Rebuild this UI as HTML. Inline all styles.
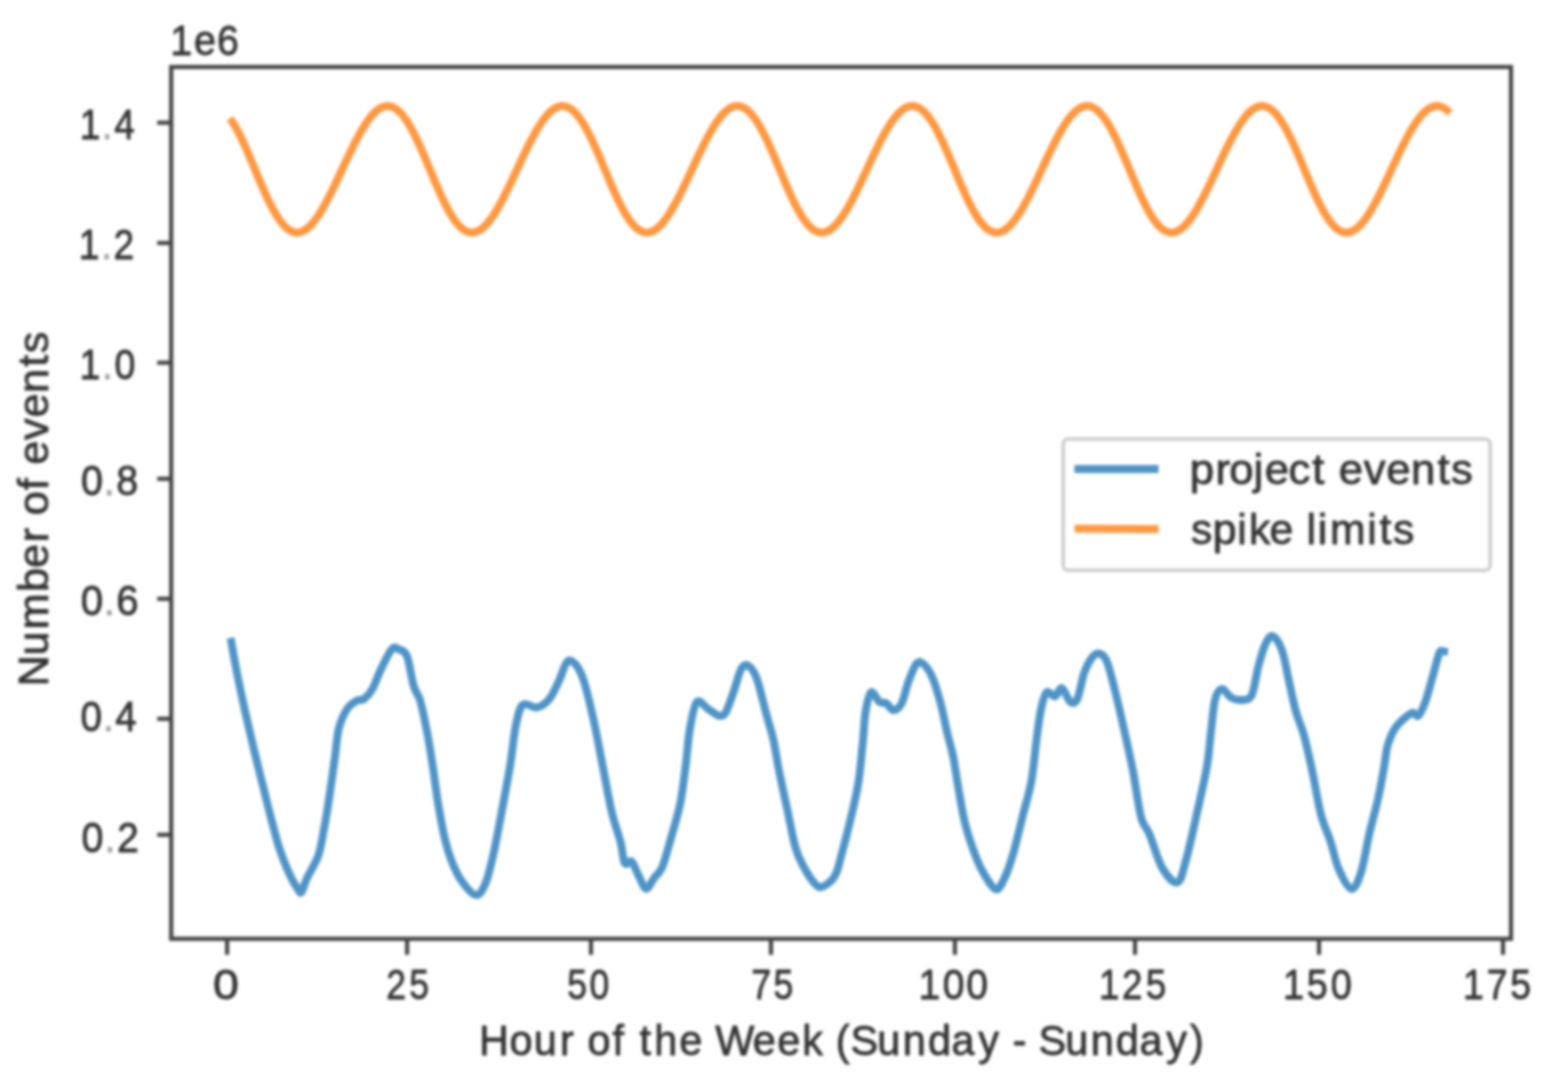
<!DOCTYPE html>
<html><head><meta charset="utf-8"><style>
html,body{margin:0;padding:0;background:#fff;width:1564px;height:1080px;overflow:hidden}
svg{display:block;filter:blur(1.8px)}
.t{stroke:#333333;stroke-width:0.8px;font-family:"Liberation Sans",sans-serif;font-size:43.0px;fill:#333333}
</style></head><body>
<svg width="1564" height="1080" viewBox="0 0 1564 1080">
<rect x="171.2" y="67.0" width="1339.8" height="871.8" fill="none" stroke="#454545" stroke-width="4.2"/>
<line x1="157.2" y1="122.7" x2="171.2" y2="122.7" stroke="#454545" stroke-width="4.2"/>
<line x1="157.2" y1="243.0" x2="171.2" y2="243.0" stroke="#454545" stroke-width="4.2"/>
<line x1="157.2" y1="362.7" x2="171.2" y2="362.7" stroke="#454545" stroke-width="4.2"/>
<line x1="157.2" y1="478.8" x2="171.2" y2="478.8" stroke="#454545" stroke-width="4.2"/>
<line x1="157.2" y1="598.8" x2="171.2" y2="598.8" stroke="#454545" stroke-width="4.2"/>
<line x1="157.2" y1="718.8" x2="171.2" y2="718.8" stroke="#454545" stroke-width="4.2"/>
<line x1="157.2" y1="834.8" x2="171.2" y2="834.8" stroke="#454545" stroke-width="4.2"/>
<line x1="227.1" y1="938.8" x2="227.1" y2="954.8" stroke="#454545" stroke-width="4.2"/>
<line x1="407.1" y1="938.8" x2="407.1" y2="954.8" stroke="#454545" stroke-width="4.2"/>
<line x1="591.0" y1="938.8" x2="591.0" y2="954.8" stroke="#454545" stroke-width="4.2"/>
<line x1="771.0" y1="938.8" x2="771.0" y2="954.8" stroke="#454545" stroke-width="4.2"/>
<line x1="954.9" y1="938.8" x2="954.9" y2="954.8" stroke="#454545" stroke-width="4.2"/>
<line x1="1135.0" y1="938.8" x2="1135.0" y2="954.8" stroke="#454545" stroke-width="4.2"/>
<line x1="1319.0" y1="938.8" x2="1319.0" y2="954.8" stroke="#454545" stroke-width="4.2"/>
<line x1="1503.0" y1="938.8" x2="1503.0" y2="954.8" stroke="#454545" stroke-width="4.2"/>
<path d="M230.0,118.4 L232.0,121.3 L234.0,124.5 L236.0,127.9 L238.0,131.6 L240.0,135.5 L242.0,139.7 L244.0,144.0 L246.0,148.4 L248.0,153.0 L250.0,157.6 L252.0,162.4 L254.0,167.1 L256.0,171.9 L258.0,176.7 L260.0,181.4 L262.0,186.1 L264.0,190.7 L266.0,195.1 L268.0,199.4 L270.0,203.5 L272.0,207.4 L274.0,211.1 L276.0,214.5 L278.0,217.7 L280.0,220.6 L282.0,223.2 L284.0,225.5 L286.0,227.5 L288.0,229.2 L290.0,230.5 L292.0,231.5 L294.0,232.2 L296.0,232.6 L298.0,232.6 L300.0,232.2 L302.0,231.6 L304.0,230.6 L306.0,229.4 L308.0,227.8 L310.0,226.0 L312.0,223.8 L314.0,221.5 L316.0,218.8 L318.0,216.0 L320.0,212.9 L322.0,209.6 L324.0,206.1 L326.0,202.5 L328.0,198.7 L330.0,194.8 L332.0,190.8 L334.0,186.7 L336.0,182.5 L338.0,178.3 L340.0,174.0 L342.0,169.7 L344.0,165.4 L346.0,161.1 L348.0,156.9 L350.0,152.7 L352.0,148.6 L354.0,144.5 L356.0,140.6 L358.0,136.8 L360.0,133.2 L362.0,129.7 L364.0,126.4 L366.0,123.3 L368.0,120.4 L370.0,117.7 L372.0,115.3 L374.0,113.1 L376.0,111.2 L378.0,109.6 L380.0,108.3 L382.0,107.2 L384.0,106.5 L386.0,106.1 L388.0,106.0 L390.0,106.3 L392.0,106.8 L394.0,107.7 L396.0,109.0 L398.0,110.5 L400.0,112.4 L402.0,114.6 L404.0,117.1 L406.0,119.9 L408.0,123.0 L410.0,126.3 L412.0,129.9 L414.0,133.8 L416.0,137.8 L418.0,142.0 L420.0,146.4 L422.0,150.9 L424.0,155.5 L426.0,160.2 L428.0,165.0 L430.0,169.8 L432.0,174.6 L434.0,179.3 L436.0,184.0 L438.0,188.6 L440.0,193.1 L442.0,197.5 L444.0,201.7 L446.0,205.7 L448.0,209.5 L450.0,213.0 L452.0,216.3 L454.0,219.3 L456.0,222.1 L458.0,224.5 L460.0,226.7 L462.0,228.5 L464.0,230.0 L466.0,231.1 L468.0,232.0 L470.0,232.4 L472.0,232.6 L474.0,232.4 L476.0,231.9 L478.0,231.1 L480.0,230.0 L482.0,228.6 L484.0,226.8 L486.0,224.8 L488.0,222.6 L490.0,220.0 L492.0,217.3 L494.0,214.3 L496.0,211.1 L498.0,207.7 L500.0,204.2 L502.0,200.5 L504.0,196.6 L506.0,192.6 L508.0,188.6 L510.0,184.4 L512.0,180.2 L514.0,175.9 L516.0,171.6 L518.0,167.3 L520.0,163.0 L522.0,158.8 L524.0,154.6 L526.0,150.4 L528.0,146.3 L530.0,142.4 L532.0,138.5 L534.0,134.8 L536.0,131.2 L538.0,127.9 L540.0,124.7 L542.0,121.7 L544.0,118.9 L546.0,116.4 L548.0,114.1 L550.0,112.0 L552.0,110.3 L554.0,108.8 L556.0,107.6 L558.0,106.8 L560.0,106.2 L562.0,106.0 L564.0,106.1 L566.0,106.5 L568.0,107.3 L570.0,108.4 L572.0,109.8 L574.0,111.5 L576.0,113.6 L578.0,116.0 L580.0,118.6 L582.0,121.6 L584.0,124.8 L586.0,128.3 L588.0,132.0 L590.0,136.0 L592.0,140.1 L594.0,144.4 L596.0,148.9 L598.0,153.4 L600.0,158.1 L602.0,162.8 L604.0,167.6 L606.0,172.4 L608.0,177.2 L610.0,181.9 L612.0,186.6 L614.0,191.1 L616.0,195.5 L618.0,199.8 L620.0,203.9 L622.0,207.8 L624.0,211.4 L626.0,214.9 L628.0,218.0 L630.0,220.9 L632.0,223.5 L634.0,225.7 L636.0,227.7 L638.0,229.3 L640.0,230.6 L642.0,231.6 L644.0,232.3 L646.0,232.6 L648.0,232.5 L650.0,232.2 L652.0,231.5 L654.0,230.5 L656.0,229.2 L658.0,227.6 L660.0,225.8 L662.0,223.6 L664.0,221.2 L666.0,218.5 L668.0,215.7 L670.0,212.6 L672.0,209.3 L674.0,205.8 L676.0,202.1 L678.0,198.4 L680.0,194.4 L682.0,190.4 L684.0,186.3 L686.0,182.1 L688.0,177.9 L690.0,173.6 L692.0,169.3 L694.0,165.0 L696.0,160.7 L698.0,156.5 L700.0,152.3 L702.0,148.2 L704.0,144.1 L706.0,140.2 L708.0,136.5 L710.0,132.8 L712.0,129.4 L714.0,126.1 L716.0,123.0 L718.0,120.1 L720.0,117.5 L722.0,115.1 L724.0,112.9 L726.0,111.0 L728.0,109.4 L730.0,108.1 L732.0,107.1 L734.0,106.4 L736.0,106.1 L738.0,106.0 L740.0,106.3 L742.0,106.9 L744.0,107.8 L746.0,109.1 L748.0,110.7 L750.0,112.6 L752.0,114.9 L754.0,117.4 L756.0,120.2 L758.0,123.3 L760.0,126.7 L762.0,130.3 L764.0,134.2 L766.0,138.2 L768.0,142.4 L770.0,146.8 L772.0,151.4 L774.0,156.0 L776.0,160.7 L778.0,165.5 L780.0,170.3 L782.0,175.0 L784.0,179.8 L786.0,184.5 L788.0,189.1 L790.0,193.6 L792.0,197.9 L794.0,202.1 L796.0,206.1 L798.0,209.8 L800.0,213.4 L802.0,216.6 L804.0,219.6 L806.0,222.3 L808.0,224.8 L810.0,226.9 L812.0,228.6 L814.0,230.1 L816.0,231.2 L818.0,232.0 L820.0,232.5 L822.0,232.6 L824.0,232.4 L826.0,231.9 L828.0,231.0 L830.0,229.9 L832.0,228.4 L834.0,226.6 L836.0,224.6 L838.0,222.3 L840.0,219.8 L842.0,217.0 L844.0,214.0 L846.0,210.8 L848.0,207.4 L850.0,203.8 L852.0,200.1 L854.0,196.2 L856.0,192.2 L858.0,188.2 L860.0,184.0 L862.0,179.8 L864.0,175.5 L866.0,171.2 L868.0,166.9 L870.0,162.6 L872.0,158.4 L874.0,154.1 L876.0,150.0 L878.0,145.9 L880.0,142.0 L882.0,138.1 L884.0,134.4 L886.0,130.9 L888.0,127.5 L890.0,124.4 L892.0,121.4 L894.0,118.6 L896.0,116.1 L898.0,113.8 L900.0,111.8 L902.0,110.1 L904.0,108.7 L906.0,107.5 L908.0,106.7 L910.0,106.2 L912.0,106.0 L914.0,106.1 L916.0,106.6 L918.0,107.4 L920.0,108.5 L922.0,110.0 L924.0,111.7 L926.0,113.8 L928.0,116.2 L930.0,118.9 L932.0,121.9 L934.0,125.1 L936.0,128.7 L938.0,132.4 L940.0,136.4 L942.0,140.5 L944.0,144.8 L946.0,149.3 L948.0,153.9 L950.0,158.6 L952.0,163.3 L954.0,168.1 L956.0,172.9 L958.0,177.7 L960.0,182.4 L962.0,187.0 L964.0,191.6 L966.0,196.0 L968.0,200.2 L970.0,204.3 L972.0,208.2 L974.0,211.8 L976.0,215.2 L978.0,218.3 L980.0,221.2 L982.0,223.7 L984.0,225.9 L986.0,227.9 L988.0,229.5 L990.0,230.8 L992.0,231.7 L994.0,232.3 L996.0,232.6 L998.0,232.5 L1000.0,232.1 L1002.0,231.4 L1004.0,230.4 L1006.0,229.1 L1008.0,227.5 L1010.0,225.6 L1012.0,223.4 L1014.0,220.9 L1016.0,218.3 L1018.0,215.4 L1020.0,212.2 L1022.0,208.9 L1024.0,205.4 L1026.0,201.8 L1028.0,198.0 L1030.0,194.0 L1032.0,190.0 L1034.0,185.9 L1036.0,181.7 L1038.0,177.4 L1040.0,173.1 L1042.0,168.8 L1044.0,164.5 L1046.0,160.3 L1048.0,156.0 L1050.0,151.9 L1052.0,147.8 L1054.0,143.7 L1056.0,139.9 L1058.0,136.1 L1060.0,132.5 L1062.0,129.0 L1064.0,125.8 L1066.0,122.7 L1068.0,119.8 L1070.0,117.2 L1072.0,114.8 L1074.0,112.7 L1076.0,110.9 L1078.0,109.3 L1080.0,108.0 L1082.0,107.0 L1084.0,106.4 L1086.0,106.0 L1088.0,106.0 L1090.0,106.3 L1092.0,107.0 L1094.0,108.0 L1096.0,109.3 L1098.0,110.9 L1100.0,112.8 L1102.0,115.1 L1104.0,117.7 L1106.0,120.5 L1108.0,123.7 L1110.0,127.0 L1112.0,130.7 L1114.0,134.6 L1116.0,138.6 L1118.0,142.9 L1120.0,147.3 L1122.0,151.8 L1124.0,156.5 L1126.0,161.2 L1128.0,165.9 L1130.0,170.7 L1132.0,175.5 L1134.0,180.3 L1136.0,185.0 L1138.0,189.5 L1140.0,194.0 L1142.0,198.3 L1144.0,202.5 L1146.0,206.4 L1148.0,210.2 L1150.0,213.7 L1152.0,216.9 L1154.0,219.9 L1156.0,222.6 L1158.0,225.0 L1160.0,227.0 L1162.0,228.8 L1164.0,230.2 L1166.0,231.3 L1168.0,232.1 L1170.0,232.5 L1172.0,232.6 L1174.0,232.4 L1176.0,231.8 L1178.0,230.9 L1180.0,229.7 L1182.0,228.2 L1184.0,226.5 L1186.0,224.4 L1188.0,222.1 L1190.0,219.5 L1192.0,216.7 L1194.0,213.7 L1196.0,210.4 L1198.0,207.0 L1200.0,203.4 L1202.0,199.7 L1204.0,195.8 L1206.0,191.8 L1208.0,187.7 L1210.0,183.6 L1212.0,179.3 L1214.0,175.1 L1216.0,170.8 L1218.0,166.5 L1220.0,162.2 L1222.0,157.9 L1224.0,153.7 L1226.0,149.6 L1228.0,145.5 L1230.0,141.6 L1232.0,137.8 L1234.0,134.1 L1236.0,130.6 L1238.0,127.2 L1240.0,124.0 L1242.0,121.1 L1244.0,118.4 L1246.0,115.9 L1248.0,113.6 L1250.0,111.7 L1252.0,110.0 L1254.0,108.6 L1256.0,107.4 L1258.0,106.6 L1260.0,106.2 L1262.0,106.0 L1264.0,106.2 L1266.0,106.7 L1268.0,107.5 L1270.0,108.6 L1272.0,110.1 L1274.0,111.9 L1276.0,114.0 L1278.0,116.5 L1280.0,119.2 L1282.0,122.2 L1284.0,125.5 L1286.0,129.0 L1288.0,132.8 L1290.0,136.8 L1292.0,140.9 L1294.0,145.3 L1296.0,149.8 L1298.0,154.4 L1300.0,159.0 L1302.0,163.8 L1304.0,168.6 L1306.0,173.4 L1308.0,178.1 L1310.0,182.9 L1312.0,187.5 L1314.0,192.0 L1316.0,196.4 L1318.0,200.6 L1320.0,204.7 L1322.0,208.5 L1324.0,212.1 L1326.0,215.5 L1328.0,218.6 L1330.0,221.4 L1332.0,223.9 L1334.0,226.2 L1336.0,228.1 L1338.0,229.6 L1340.0,230.9 L1342.0,231.8 L1344.0,232.4 L1346.0,232.6 L1348.0,232.5 L1350.0,232.1 L1352.0,231.3 L1354.0,230.3 L1356.0,228.9 L1358.0,227.3 L1360.0,225.4 L1362.0,223.2 L1364.0,220.7 L1366.0,218.0 L1368.0,215.1 L1370.0,211.9 L1372.0,208.6 L1374.0,205.1 L1376.0,201.4 L1378.0,197.6 L1380.0,193.6 L1382.0,189.6 L1384.0,185.5 L1386.0,181.3 L1388.0,177.0 L1390.0,172.7 L1392.0,168.4 L1394.0,164.1 L1396.0,159.8 L1398.0,155.6 L1400.0,151.4 L1402.0,147.3 L1404.0,143.3 L1406.0,139.5 L1408.0,135.7 L1410.0,132.1 L1412.0,128.7 L1414.0,125.4 L1416.0,122.4 L1418.0,119.6 L1420.0,117.0 L1422.0,114.6 L1424.0,112.5 L1426.0,110.7 L1428.0,109.2 L1430.0,107.9 L1432.0,107.0 L1434.0,106.3 L1436.0,106.0 L1438.0,106.0 L1440.0,106.4 L1442.0,107.1 L1444.0,108.1 L1446.0,109.4 L1448.0,111.1 L1450.0,113.1 L1450.0,113.1" fill="none" stroke="#ff9840" stroke-width="7.8" stroke-linejoin="round"/>
<path d="M230.6,638.1 C231.8,644.4 235.0,662.9 237.5,675.6 C240.0,688.3 243.0,701.9 245.8,714.4 C248.6,726.9 251.4,739.0 254.2,750.6 C257.0,762.2 259.7,772.8 262.5,783.9 C265.3,795.0 268.0,806.6 270.8,817.2 C273.6,827.9 276.2,838.5 279.2,847.8 C282.2,857.1 285.9,866.1 288.9,872.8 C291.9,879.5 295.1,884.9 297.2,888.1 C299.3,891.3 299.8,893.8 301.4,892.2 C303.0,890.6 304.1,884.3 306.9,878.3 C309.7,872.3 315.3,864.0 318.1,856.1 C320.9,848.2 321.8,840.8 323.6,831.1 C325.5,821.4 327.4,809.8 329.2,797.8 C331.0,785.8 333.1,770.5 334.7,758.9 C336.3,747.3 336.8,736.6 338.9,728.3 C341.0,720.0 344.2,713.5 347.2,708.9 C350.2,704.3 354.2,702.2 357.0,700.6 C359.8,699.0 361.4,701.1 363.9,699.2 C366.4,697.3 369.4,694.3 372.2,689.4 C375.0,684.5 377.4,676.7 380.6,670.0 C383.9,663.3 388.7,652.7 391.7,649.2 C394.7,645.7 396.1,648.1 398.6,649.2 C401.1,650.4 404.3,649.9 406.9,656.1 C409.4,662.4 411.7,679.4 413.9,686.7 C416.1,694.0 417.8,692.6 420.0,700.0 C422.2,707.4 424.8,720.4 426.9,731.1 C429.0,741.8 430.6,752.4 432.5,764.4 C434.4,776.4 436.0,790.8 438.1,803.3 C440.2,815.8 442.7,829.7 445.0,839.4 C447.3,849.1 449.1,854.8 451.9,861.7 C454.7,868.7 457.8,875.6 461.7,881.1 C465.6,886.6 471.7,894.5 475.6,895.0 C479.5,895.5 482.3,890.9 485.3,883.9 C488.3,876.9 490.6,866.7 493.6,853.3 C496.6,839.9 500.5,818.1 503.3,803.3 C506.1,788.5 508.2,777.3 510.3,764.4 C512.4,751.5 513.7,735.5 515.8,725.6 C517.9,715.7 519.3,707.7 522.8,704.7 C526.3,701.7 532.3,708.4 536.7,707.5 C541.1,706.6 545.5,703.6 549.2,699.2 C552.9,694.8 555.9,687.4 558.9,681.1 C561.9,674.9 564.4,664.5 567.2,661.7 C570.0,658.9 572.8,661.2 575.6,664.4 C578.4,667.6 580.9,671.8 583.9,681.1 C586.9,690.4 590.6,706.6 593.6,720.0 C596.6,733.4 598.9,746.4 601.9,761.7 C604.9,777.0 608.6,798.3 611.7,811.7 C614.8,825.1 618.4,833.6 620.6,842.2 C622.8,850.8 622.9,859.9 624.7,863.1 C626.6,866.4 629.4,859.6 631.7,861.7 C634.0,863.8 636.2,871.1 638.6,875.6 C641.0,880.1 643.6,888.5 646.1,888.9 C648.6,889.3 651.2,881.9 653.9,878.3 C656.6,874.7 659.4,873.7 662.2,867.2 C665.0,860.7 667.6,850.0 670.6,839.4 C673.6,828.8 677.8,815.8 680.3,803.3 C682.8,790.8 684.2,776.9 685.8,764.4 C687.4,751.9 688.1,738.7 690.0,728.3 C691.9,717.9 693.9,705.1 696.9,701.9 C699.9,698.7 704.4,706.6 708.1,708.9 C711.8,711.2 716.2,715.3 719.2,715.8 C722.2,716.3 723.6,716.1 726.1,711.7 C728.6,707.3 731.9,696.6 734.4,689.4 C736.9,682.2 739.1,672.5 741.4,668.6 C743.7,664.7 745.8,664.2 748.3,665.8 C750.8,667.4 753.7,670.2 756.7,678.3 C759.7,686.4 763.6,704.2 766.4,714.4 C769.2,724.6 771.2,730.1 773.3,739.4 C775.4,748.7 776.6,758.4 778.9,770.0 C781.2,781.6 784.4,795.9 787.2,808.9 C790.0,821.9 792.8,838.1 795.6,847.8 C798.4,857.5 800.7,861.2 803.9,867.2 C807.1,873.2 811.9,880.6 815.0,883.9 C818.1,887.1 819.2,888.1 822.5,886.7 C825.8,885.3 831.8,881.2 835.0,875.6 C838.2,870.0 839.1,863.5 841.9,853.3 C844.7,843.1 848.9,826.4 851.7,814.4 C854.5,802.4 856.8,793.1 858.6,781.1 C860.5,769.1 861.6,753.8 862.8,742.2 C864.0,730.6 864.2,720.0 865.6,711.7 C867.0,703.4 868.8,693.8 871.1,692.2 C873.4,690.6 876.9,700.0 879.4,701.9 C881.9,703.8 884.1,701.9 886.4,703.3 C888.7,704.7 890.8,710.3 893.3,710.3 C895.8,710.3 899.2,708.2 901.7,703.3 C904.2,698.4 906.1,687.8 908.6,681.1 C911.1,674.4 914.4,665.9 916.9,663.1 C919.4,660.3 921.3,662.1 923.9,664.4 C926.5,666.7 929.4,670.5 932.2,677.0 C935.0,683.5 938.1,693.8 940.6,703.3 C943.1,712.8 945.4,725.1 947.5,733.9 C949.6,742.7 951.2,746.9 953.1,756.1 C955.0,765.4 956.5,777.8 958.6,789.4 C960.7,801.0 962.6,814.0 965.6,825.6 C968.6,837.2 973.5,850.6 976.7,858.9 C979.9,867.2 981.8,870.5 985.0,875.6 C988.2,880.7 992.9,889.0 996.1,889.4 C999.3,889.8 1001.5,884.3 1004.4,878.3 C1007.3,872.3 1010.2,863.9 1013.3,853.3 C1016.4,842.6 1020.1,826.4 1023.1,814.4 C1026.1,802.4 1029.1,794.0 1031.4,781.1 C1033.7,768.2 1035.3,748.7 1036.9,736.7 C1038.5,724.7 1039.5,716.3 1041.1,708.9 C1042.7,701.5 1044.4,694.3 1046.7,692.2 C1049.0,690.1 1052.5,697.1 1055.0,696.4 C1057.5,695.7 1059.4,687.2 1061.9,688.1 C1064.5,689.0 1067.8,700.0 1070.3,701.9 C1072.8,703.8 1074.9,704.1 1077.2,699.2 C1079.5,694.4 1081.9,679.5 1084.2,672.8 C1086.5,666.1 1088.8,662.1 1091.1,658.9 C1093.4,655.6 1095.5,653.1 1098.1,653.3 C1100.6,653.5 1103.6,654.3 1106.4,660.3 C1109.2,666.3 1111.7,677.6 1114.7,689.4 C1117.7,701.2 1121.4,717.7 1124.4,731.1 C1127.4,744.5 1130.0,755.6 1132.8,770.0 C1135.6,784.4 1138.3,806.6 1141.1,817.2 C1143.9,827.9 1145.9,825.6 1149.4,833.9 C1152.9,842.2 1157.3,859.1 1161.9,867.2 C1166.5,875.3 1173.2,883.4 1177.2,882.5 C1181.2,881.6 1182.3,873.1 1185.6,861.7 C1188.8,850.4 1193.2,830.2 1196.7,814.4 C1200.2,798.6 1204.5,780.7 1206.9,766.7 C1209.3,752.7 1209.7,742.0 1211.1,730.6 C1212.5,719.2 1213.4,705.6 1215.3,698.6 C1217.2,691.6 1219.7,689.1 1222.2,688.9 C1224.8,688.7 1227.6,695.4 1230.6,697.2 C1233.6,699.1 1236.8,700.2 1240.3,700.0 C1243.8,699.8 1248.4,701.3 1251.4,695.8 C1254.4,690.2 1256.0,675.3 1258.3,666.7 C1260.6,658.1 1262.9,649.5 1265.3,644.4 C1267.7,639.3 1270.0,635.2 1272.8,636.1 C1275.6,637.0 1279.2,642.6 1281.9,650.0 C1284.6,657.4 1286.6,670.4 1288.9,680.6 C1291.2,690.8 1293.2,701.9 1295.8,711.1 C1298.3,720.4 1301.4,725.9 1304.2,736.1 C1307.0,746.3 1309.7,759.2 1312.5,772.2 C1315.3,785.2 1317.8,802.3 1320.8,813.9 C1323.8,825.5 1327.6,832.5 1330.6,841.7 C1333.6,851.0 1335.4,861.5 1338.9,869.4 C1342.4,877.3 1347.7,888.4 1351.4,888.9 C1355.1,889.4 1358.1,881.5 1361.1,872.2 C1364.1,862.9 1366.6,845.3 1369.4,833.3 C1372.2,821.3 1375.4,810.5 1377.8,800.0 C1380.2,789.5 1381.9,779.2 1383.6,770.0 C1385.3,760.8 1385.7,752.2 1387.8,745.0 C1389.9,737.8 1392.2,732.2 1396.1,726.9 C1400.0,721.6 1407.7,715.0 1411.4,713.1 C1415.1,711.2 1416.0,717.7 1418.3,715.8 C1420.6,713.9 1423.0,708.1 1425.3,701.9 C1427.6,695.6 1429.9,686.4 1432.2,678.3 C1434.5,670.2 1437.4,657.8 1439.2,653.3 C1441.0,648.8 1441.8,651.5 1443.3,651.3 C1444.8,651.1 1447.2,651.9 1448.0,652.0" fill="none" stroke="#4f94c7" stroke-width="7.8" stroke-linejoin="round"/>
<rect x="1063.2" y="439.1" width="427" height="131.1" rx="5" ry="5" fill="#ffffff" fill-opacity="0.8" stroke="#cccccc" stroke-width="3.5"/>
<line x1="1074.5" y1="469" x2="1158.5" y2="469" stroke="#4f94c7" stroke-width="7.8"/>
<line x1="1074.5" y1="528.7" x2="1158.5" y2="529" stroke="#ff9840" stroke-width="7.8"/>
<text transform="translate(108.30,138.80) scale(0.8597,1)" x="-33.25 -7.23 6.87" class="t">1<tspan fill-opacity="0.45" stroke-opacity="0.3">.</tspan>4</text>
<text transform="translate(107.00,259.20) scale(0.8643,1)" x="-32.70 -6.32 7.59" class="t">1<tspan fill-opacity="0.45" stroke-opacity="0.3">.</tspan>2</text>
<text transform="translate(108.35,378.80) scale(0.8720,1)" x="-33.05 -7.02 7.10" class="t">1<tspan fill-opacity="0.45" stroke-opacity="0.3">.</tspan>0</text>
<text transform="translate(109.65,495.30) scale(0.9168,1)" x="-31.15 -6.32 7.32" class="t">0<tspan fill-opacity="0.45" stroke-opacity="0.3">.</tspan>8</text>
<text transform="translate(109.75,614.90) scale(0.9356,1)" x="-31.06 -6.42 7.01" class="t">0<tspan fill-opacity="0.45" stroke-opacity="0.3">.</tspan>6</text>
<text transform="translate(108.85,730.50) scale(0.8989,1)" x="-31.50 -6.57 7.16" class="t">0<tspan fill-opacity="0.45" stroke-opacity="0.3">.</tspan>4</text>
<text transform="translate(109.80,851.60) scale(0.9158,1)" x="-30.90 -5.67 7.84" class="t">0<tspan fill-opacity="0.45" stroke-opacity="0.3">.</tspan>2</text>
<text transform="translate(225.95,998.90) scale(1.0844,1)" x="-11.96" class="t">0</text>
<text transform="translate(407.70,998.90) scale(0.8282,1)" x="-25.86 1.80" class="t">25</text>
<text transform="translate(588.60,998.90) scale(0.8267,1)" x="-25.73 1.18" class="t">50</text>
<text transform="translate(772.30,998.90) scale(0.8292,1)" x="-25.47 1.52" class="t">75</text>
<text transform="translate(954.20,998.90) scale(0.9087,1)" x="-39.19 -12.61 13.25" class="t">100</text>
<text transform="translate(1133.25,998.90) scale(0.8576,1)" x="-39.91 -13.01 14.64" class="t">125</text>
<text transform="translate(1318.30,998.90) scale(0.8803,1)" x="-39.99 -13.05 14.02" class="t">150</text>
<text transform="translate(1497.60,998.90) scale(0.8726,1)" x="-39.77 -12.53 14.51" class="t">175</text>
<text transform="translate(205.55,55.40) scale(0.9161,1)" x="-38.48 -12.74 12.42" class="t">1e6</text>
<text transform="translate(841.55,1054.80) scale(0.9630,1)" x="-376.50 -344.82 -319.68 -292.25 -276.75 -263.75 -237.82 -224.08 -209.75 -194.60 -168.59 -143.53 -131.09 -92.16 -66.86 -40.85 -18.05 -5.92 9.27 37.14 63.66 89.67 114.26 141.87 165.27 177.88 193.15 204.46 232.33 258.85 284.86 309.45 337.06 361.85" class="t">Hour of the Week (Sunday - Sunday)</text>
<text transform="translate(48.00,508.00) rotate(-90) scale(1.0076,1)" x="-177.07 -146.43 -120.56 -83.43 -59.47 -34.05 -19.24 -7.22 17.66 30.70 42.87 67.53 89.87 114.23 140.26 153.59" class="t">Number of events</text>
<text transform="translate(1331.35,483.80) scale(1.0159,1)" x="-139.39 -114.04 -100.45 -76.56 -65.61 -42.29 -18.71 -4.90 7.23 31.86 54.16 78.48 104.48 117.77" class="t">project events</text>
<text transform="translate(1302.50,543.60) scale(0.9926,1)" x="-112.32 -90.41 -65.68 -53.96 -33.24 -8.88 3.96 15.42 27.68 65.18 77.57 91.18" class="t">spike limits</text>
</svg></body></html>
